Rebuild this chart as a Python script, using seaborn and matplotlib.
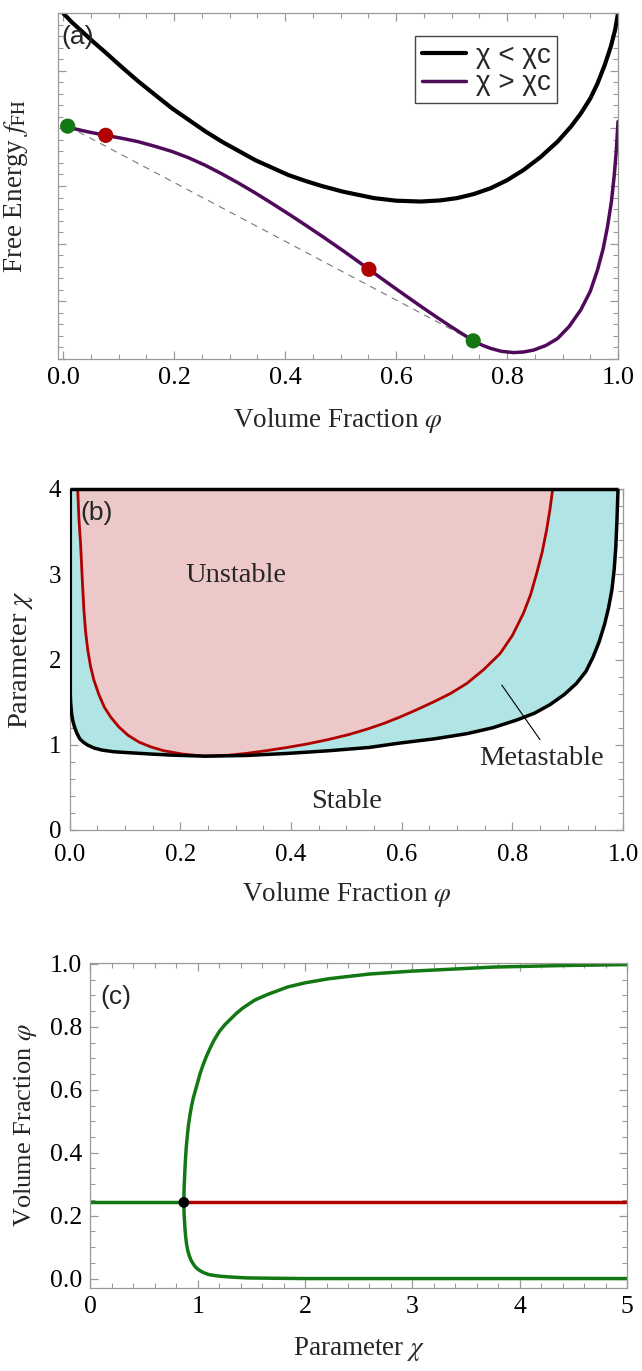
import matplotlib
matplotlib.use("Agg")
import matplotlib.pyplot as plt
from matplotlib.ticker import MultipleLocator, NullFormatter, FormatStrFormatter
import seaborn as sns

# ---------------- data ----------------
# panel (a): free energy curves (arbitrary units, frame spans 0..6)
a_phi_low = [0.0, 0.015, 0.057, 0.075, 0.105, 0.135, 0.166, 0.196, 0.226, 0.256,
             0.286, 0.316, 0.346, 0.376, 0.406, 0.436, 0.466, 0.505, 0.560, 0.600,
             0.644, 0.680, 0.710, 0.740, 0.770, 0.800, 0.830, 0.860, 0.891, 0.915,
             0.933, 0.950, 0.963, 0.976, 0.987, 0.995, 1.0]
a_f_low = [6.0, 5.85, 5.48, 5.33, 5.07, 4.82, 4.58, 4.35, 4.15, 3.95,
           3.77, 3.61, 3.45, 3.32, 3.19, 3.09, 3.00, 2.90, 2.79, 2.745,
           2.73, 2.75, 2.79, 2.86, 2.96, 3.10, 3.28, 3.50, 3.77, 4.03,
           4.26, 4.52, 4.78, 5.10, 5.42, 5.72, 6.0]
a_phi_high = [0.008, 0.020, 0.045, 0.0765, 0.105, 0.135, 0.165, 0.196, 0.226, 0.256,
              0.286, 0.316, 0.346, 0.376, 0.406, 0.436, 0.470, 0.505, 0.530, 0.551,
              0.570, 0.590, 0.620, 0.650, 0.675, 0.698, 0.720, 0.739, 0.755, 0.770,
              0.790, 0.812, 0.830, 0.848, 0.870, 0.891, 0.912, 0.933, 0.950, 0.963,
              0.973, 0.981, 0.988, 0.993, 0.997, 1.0]
a_f_high = [4.04, 3.995, 3.94, 3.88, 3.83, 3.77, 3.69, 3.60, 3.49, 3.36,
            3.21, 3.05, 2.88, 2.70, 2.515, 2.325, 2.105, 1.872, 1.700, 1.553,
            1.420, 1.281, 1.076, 0.874, 0.710, 0.563, 0.428, 0.31, 0.236, 0.18,
            0.128, 0.106, 0.117, 0.15, 0.23, 0.35, 0.56, 0.85, 1.17, 1.54,
            1.90, 2.29, 2.72, 3.16, 3.62, 4.12]
a_spin_phi = [0.0765, 0.551]
a_spin_f = [3.88, 1.553]
a_bin_phi = [0.008, 0.739]
a_bin_f = [4.04, 0.31]
legend_labels = ["χ < χc", "χ > χc"]

# panel (b): phase diagram
b_bin_phi = [0.0015, 0.0015, 0.002, 0.0037, 0.006, 0.009, 0.013, 0.0185, 0.025, 0.033,
             0.045, 0.059, 0.080, 0.111, 0.150, 0.185, 0.244, 0.319, 0.393, 0.467,
             0.541, 0.597, 0.660, 0.718, 0.765, 0.808, 0.840, 0.868, 0.894, 0.916,
             0.933, 0.946, 0.957, 0.967, 0.974, 0.980, 0.984, 0.987, 0.989, 0.991]
b_bin_chi = [4.0, 1.60, 1.50, 1.37, 1.28, 1.21, 1.14, 1.07, 1.03, 0.995,
             0.96, 0.937, 0.918, 0.905, 0.890, 0.878, 0.866, 0.874, 0.898, 0.929,
             0.968, 1.02, 1.07, 1.13, 1.20, 1.29, 1.37, 1.47, 1.59, 1.72,
             1.86, 2.03, 2.21, 2.42, 2.61, 2.82, 3.05, 3.32, 3.62, 4.0]
b_sp_phi = [0.0148, 0.017, 0.020, 0.023, 0.026, 0.029, 0.033, 0.038, 0.044, 0.053,
            0.063, 0.075, 0.089, 0.106, 0.126, 0.147, 0.170, 0.205, 0.244, 0.280,
            0.319, 0.355, 0.393, 0.430, 0.467, 0.505, 0.541, 0.570, 0.597, 0.627,
            0.657, 0.688, 0.718, 0.748, 0.778, 0.800, 0.820, 0.833, 0.844, 0.854,
            0.862, 0.868, 0.873]
b_sp_chi = [4.0, 3.65, 3.36, 2.95, 2.58, 2.33, 2.11, 1.92, 1.76, 1.59,
            1.44, 1.32, 1.21, 1.11, 1.03, 0.975, 0.93, 0.89, 0.866, 0.872,
            0.898, 0.93, 0.968, 1.01, 1.06, 1.12, 1.19, 1.255, 1.325, 1.41,
            1.50, 1.60, 1.72, 1.88, 2.07, 2.28, 2.54, 2.76, 3.01, 3.26,
            3.52, 3.76, 4.0]
region_labels = ["Unstable", "Metastable", "Stable"]

# panel (c): bifurcation diagram
c_chi_up = [0.870, 0.871, 0.874, 0.878, 0.882, 0.887, 0.893, 0.900, 0.907, 0.916,
            0.927, 0.940, 0.955, 0.975, 0.996, 1.02, 1.05, 1.08, 1.11, 1.15,
            1.20, 1.25, 1.30, 1.36, 1.42, 1.53, 1.65, 1.84, 2.00, 2.22,
            2.60, 2.99, 3.40, 3.75, 4.40, 5.0]
c_phi_up = [0.242, 0.27, 0.30, 0.33, 0.36, 0.39, 0.42, 0.445, 0.47, 0.495,
            0.52, 0.545, 0.57, 0.595, 0.62, 0.65, 0.68, 0.706, 0.729, 0.757,
            0.785, 0.806, 0.823, 0.843, 0.860, 0.885, 0.903, 0.927, 0.940, 0.953,
            0.968, 0.977, 0.984, 0.990, 0.995, 0.998]
c_chi_lo = [0.870, 0.871, 0.873, 0.877, 0.881, 0.887, 0.895, 0.906, 0.920, 0.936,
            0.955, 0.975, 0.996, 1.03, 1.06, 1.10, 1.15, 1.22, 1.30, 1.46,
            1.70, 2.0, 3.0, 5.0]
c_phi_lo = [0.242, 0.22, 0.20, 0.178, 0.156, 0.133, 0.11, 0.09, 0.073, 0.059,
            0.048, 0.038, 0.031, 0.023, 0.018, 0.013, 0.010, 0.007, 0.005, 0.002,
            0.001, 0.0, 0.0, 0.0]
c_chi_stable = [0.0, 0.870]
c_chi_unstable = [0.870, 5.0]
c_phi_mix = [0.242, 0.242]
c_crit = (0.870, 0.242)

# ---------------- style ----------------
sns.set_theme(style="ticks")
plt.rcParams["font.family"] = ["Liberation Serif", "DejaVu Serif"]
plt.rcParams["mathtext.fontset"] = "stix"
SANS = ["Liberation Sans", "DejaVu Sans"]
FRAME = "#9a9a9a"

BLACK = "#000000"
PURPLE = "#500a5a"
GREEN = "#137813"
RED = "#b00000"
CYAN = "#b1e4e4"
PINK = "#ecc8c8"

fig = plt.figure(figsize=(6.42, 13.71), dpi=100)
W, H = 642.0, 1371.0


def make_ax(l, t, r, b):
    return fig.add_axes([l / W, 1 - b / H, (r - l) / W, (b - t) / H])


def style_ax(ax, tick_size, xpad=6, ypad=6):
    for s in ax.spines.values():
        s.set_color(FRAME)
        s.set_linewidth(0.9)
    ax.tick_params(which="both", direction="in", top=True, right=True,
                   color=FRAME, labelcolor="black", labelsize=tick_size)
    ax.tick_params(axis="x", which="major", pad=xpad)
    ax.tick_params(axis="y", which="major", pad=ypad)
    ax.tick_params(which="major", length=6, width=0.9)
    ax.tick_params(which="minor", length=3.5, width=0.8)


# ---------------- panel (a) ----------------
ax1 = make_ax(57.7, 13.3, 618.0, 358.7)
sns.lineplot(x=a_bin_phi, y=a_bin_f, ax=ax1, color="#777777", lw=0.8,
             linestyle=(0, (6, 5)), sort=False, estimator=None)
sns.lineplot(x=a_phi_low, y=a_f_low, ax=ax1, color=BLACK, lw=3.0, sort=False,
             estimator=None, label=legend_labels[0])
sns.lineplot(x=a_phi_high, y=a_f_high, ax=ax1, color=PURPLE, lw=2.5, sort=False,
             estimator=None, label=legend_labels[1])
sns.scatterplot(x=a_bin_phi, y=a_bin_f, ax=ax1, color=GREEN, s=120, edgecolor="none",
                zorder=5, legend=False)
sns.scatterplot(x=a_spin_phi, y=a_spin_f, ax=ax1, color=RED, s=120, edgecolor="none",
                zorder=5, legend=False)
ax1.set_xlim(-0.01, 1.0)
ax1.set_ylim(0, 6)
ax1.xaxis.set_major_locator(MultipleLocator(0.2))
ax1.xaxis.set_minor_locator(MultipleLocator(0.05))
ax1.yaxis.set_major_locator(MultipleLocator(1.0))
ax1.yaxis.set_minor_locator(MultipleLocator(0.2))
ax1.yaxis.set_major_formatter(NullFormatter())
ax1.xaxis.set_major_formatter(FormatStrFormatter("%.1f"))
style_ax(ax1, 19)
ax1.set_xlabel(r"Volume Fraction $\varphi$", fontsize=19.5, labelpad=12)
ax1.set_ylabel(r"Free Energy $f_{\mathrm{FH}}$", fontsize=19.5, labelpad=14)
ax1.text(0.035, 0.93, "(a)", transform=ax1.transAxes, family=SANS, fontsize=19,
         ha="center", va="center")
leg = ax1.legend(loc="upper right", bbox_to_anchor=(0.892, 0.934), borderaxespad=0,
                 frameon=True, fancybox=False, framealpha=1, edgecolor="#444444",
                 prop={"family": SANS, "size": 20}, handlelength=1.6,
                 handletextpad=0.35, labelspacing=0.05, borderpad=0.25)
leg.get_frame().set_linewidth(1.0)

# ---------------- panel (b) ----------------
ax2 = make_ax(69.5, 489.0, 623.0, 830.0)
ax2.fill(b_bin_phi, b_bin_chi, color=CYAN, lw=0, zorder=1)
ax2.fill(b_sp_phi, b_sp_chi, color=PINK, lw=0, zorder=2)
sns.lineplot(x=b_sp_phi, y=b_sp_chi, ax=ax2, color=RED, lw=2.0, sort=False,
             estimator=None, zorder=3)
sns.lineplot(x=b_bin_phi, y=b_bin_chi, ax=ax2, color=BLACK, lw=2.5, sort=False,
             estimator=None, zorder=4)
ax2.plot([0.0, b_bin_phi[-1]], [b_bin_chi[0], b_bin_chi[-1]], color=BLACK, lw=2.5,
         clip_on=False, zorder=6, solid_capstyle="butt")
ax2.set_xlim(0, 1)
ax2.set_ylim(0, 4)
ax2.xaxis.set_major_locator(MultipleLocator(0.2))
ax2.xaxis.set_minor_locator(MultipleLocator(0.05))
ax2.yaxis.set_major_locator(MultipleLocator(1.0))
ax2.yaxis.set_minor_locator(MultipleLocator(0.2))
ax2.xaxis.set_major_formatter(FormatStrFormatter("%.1f"))
style_ax(ax2, 18, xpad=10, ypad=6)
ax2.set_xlabel(r"Volume Fraction $\varphi$", fontsize=19.5, labelpad=10)
ax2.set_ylabel(r"Parameter $\chi$", fontsize=20.5, labelpad=10)
ax2.text(0.049, 0.93, "(b)", transform=ax2.transAxes, family=SANS, fontsize=19,
         ha="center", va="center", zorder=7)
ax2.text(0.30, 2.99, region_labels[0], fontsize=20.5, ha="center", va="center", zorder=7)
ax2.text(0.852, 0.84, region_labels[1], fontsize=20.5, ha="center", va="center", zorder=7)
ax2.text(0.50, 0.33, region_labels[2], fontsize=20.5, ha="center", va="center", zorder=7)
ax2.plot([0.781, 0.850], [1.70, 1.06], color=BLACK, lw=0.8, zorder=7)

# ---------------- panel (c) ----------------
ax3 = make_ax(90.5, 963.0, 627.0, 1288.0)
sns.lineplot(x=c_chi_stable, y=c_phi_mix, ax=ax3, color=GREEN, lw=2.5, sort=False,
             estimator=None)
sns.lineplot(x=c_chi_unstable, y=c_phi_mix, ax=ax3, color=RED, lw=2.5, sort=False,
             estimator=None)
sns.lineplot(x=c_chi_up, y=c_phi_up, ax=ax3, color=GREEN, lw=2.5, sort=False,
             estimator=None)
sns.lineplot(x=c_chi_lo, y=c_phi_lo, ax=ax3, color=GREEN, lw=2.5, sort=False,
             estimator=None)
sns.scatterplot(x=[c_crit[0]], y=[c_crit[1]], ax=ax3, color=BLACK, s=60,
                edgecolor="none", zorder=6, legend=False)
ax3.set_xlim(0, 5)
ax3.set_ylim(-0.03, 1.003)
ax3.xaxis.set_major_locator(MultipleLocator(1.0))
ax3.xaxis.set_minor_locator(MultipleLocator(0.2))
ax3.yaxis.set_major_locator(MultipleLocator(0.2))
ax3.yaxis.set_minor_locator(MultipleLocator(0.05))
ax3.yaxis.set_major_formatter(FormatStrFormatter("%.1f"))
style_ax(ax3, 18.5)
ax3.set_xlabel(r"Parameter $\chi$", fontsize=19.5, labelpad=12)
ax3.set_ylabel(r"Volume Fraction $\varphi$", fontsize=19, labelpad=8)
ax3.text(0.048, 0.895, "(c)", transform=ax3.transAxes, family=SANS, fontsize=19,
         ha="center", va="center")

fig.savefig("out.png", dpi=100)
